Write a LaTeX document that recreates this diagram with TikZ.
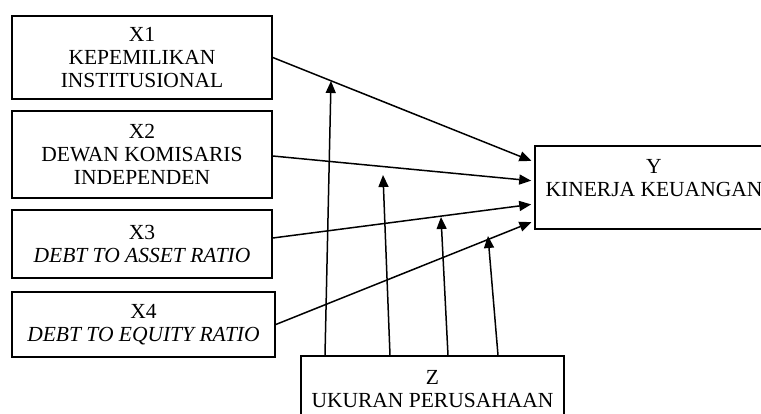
\documentclass[tikz,border=0pt]{standalone}
\usepackage{fontspec}
\setmainfont{Liberation Serif}
\usetikzlibrary{arrows.meta,calc}
\begin{document}
\begin{tikzpicture}[x=1pt,y=-1pt,
  box/.style={draw,line width=1.6pt,rectangle,inner sep=0pt,align=center,
    font=\fontsize{21.5}{23}\selectfont},
  txt/.style={inner sep=0pt,align=center,font=\fontsize{21.5}{23}\selectfont},
  conn/.style={line width=1.5pt,-{Triangle[length=12pt,width=10pt]}}]
\useasboundingbox (0,0) rectangle (761,414);
\clip (0,0) rectangle (761,414);
\node[box,minimum width=260pt,minimum height=83pt] (X1) at (142,57.5) {X1\\KEPEMILIKAN\\INSTITUSIONAL};
\node[box,minimum width=260pt,minimum height=87pt] (X2) at (142,154.5) {X2\\DEWAN KOMISARIS\\INDEPENDEN};
\node[box,minimum width=260pt,minimum height=68pt] (X3) at (142,244) {X3\\\textit{DEBT TO ASSET RATIO}};
\node[box,minimum width=263pt,minimum height=65pt] (X4) at (143.5,324.5) {X4\\\textit{DEBT TO EQUITY RATIO}};
\node[box,minimum width=238pt,minimum height=83pt] (Y) at (654,187.5) {};
\node[txt] (Ylab) at (654,178.5) {Y\\KINERJA KEUANGAN};
\node[box,minimum width=263pt,minimum height=66pt] (Z) at (432.5,389) {Z\\UKURAN PERUSAHAAN};
\coordinate (m1) at (331,81);
\coordinate (m2) at (383,175);
\coordinate (m3) at (441,217);
\coordinate (m4) at (488,236);
\draw[conn,shorten >=3pt] (X1.east) -- ([yshift=25.5pt]Y.west);
\draw[conn,shorten >=3pt] ([yshift=-1.5pt]X2.east) -- ([yshift=6.5pt]Y.west);
\draw[conn,shorten >=3pt] ([yshift=6pt]X3.east) -- ([yshift=-16.5pt]Y.west);
\draw[conn,shorten >=3pt] (X4.east) -- ([yshift=-33.5pt]Y.west);
\draw[conn] ([xshift=-107.5pt]Z.north) -- (m1);
\draw[conn] ([xshift=-42.5pt]Z.north) -- (m2);
\draw[conn] ([xshift=15.5pt]Z.north) -- (m3);
\draw[conn] ([xshift=65.5pt]Z.north) -- (m4);
\end{tikzpicture}
\end{document}
